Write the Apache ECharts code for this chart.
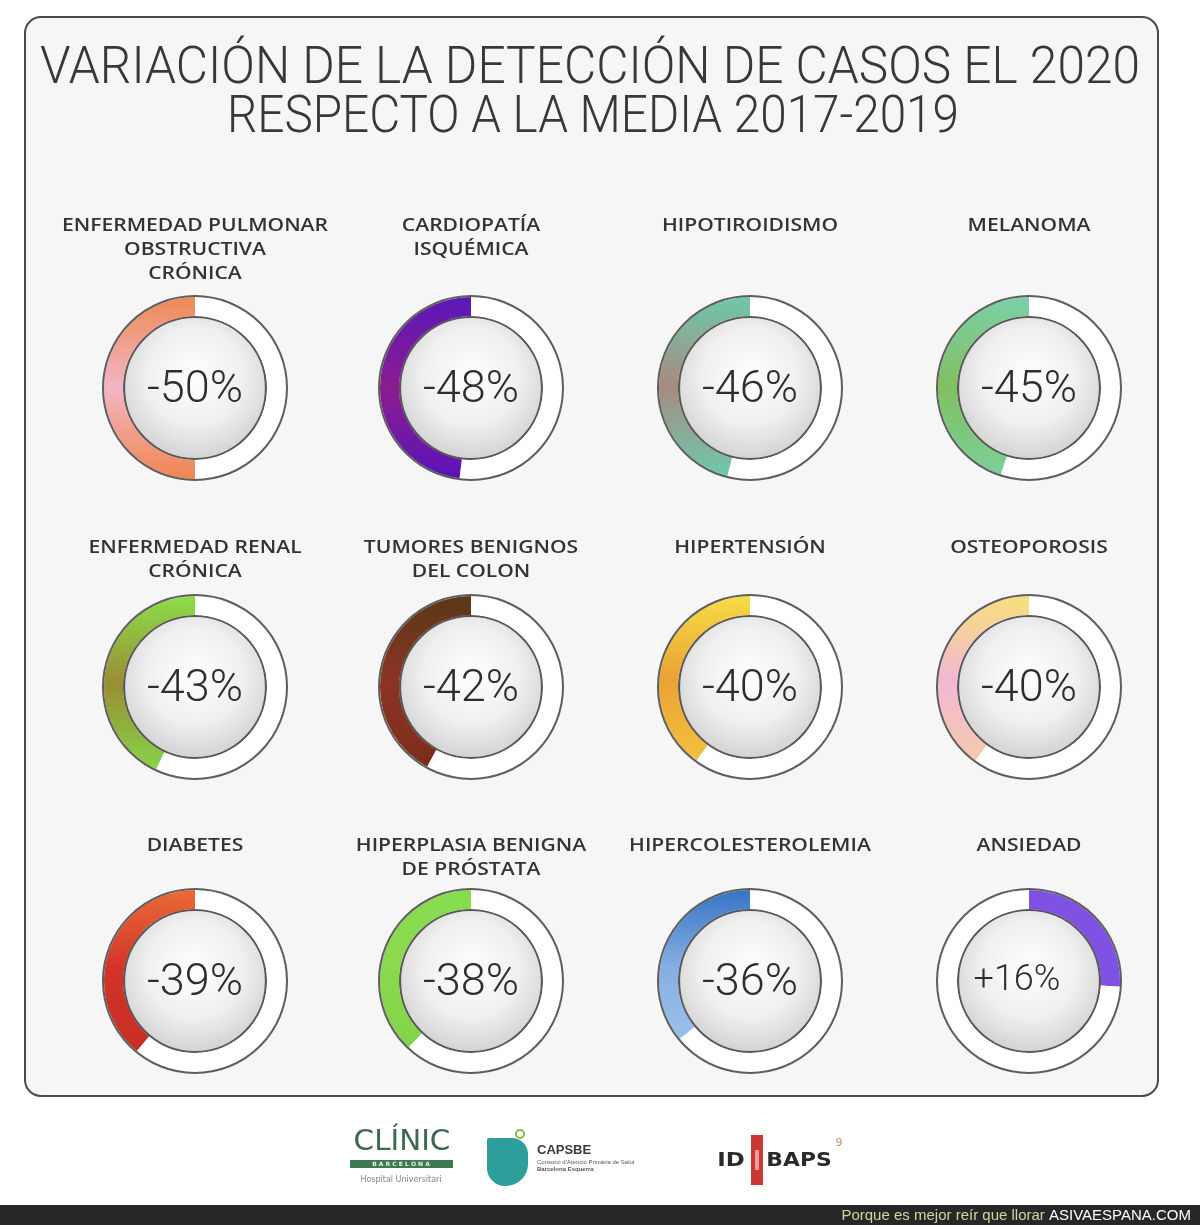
<!DOCTYPE html>
<html>
<head>
<meta charset="utf-8">
<script src="https://cdn.jsdelivr.net/npm/echarts@6/dist/echarts.min.js"></script>
<style>
html,body{margin:0;padding:0;background:#ffffff;}
#chart{width:1200px;height:1225px;}
</style>
</head>
<body>
<div id="chart"></div>
<script>
// ---------- data ----------
const titleLines = ['VARIACIÓN DE LA DETECCIÓN DE CASOS EL 2020', 'RESPECTO A LA MEDIA 2017-2019'];
const categories = [
  'ENFERMEDAD PULMONAR\nOBSTRUCTIVA\nCRÓNICA',
  'CARDIOPATÍA\nISQUÉMICA',
  'HIPOTIROIDISMO',
  'MELANOMA',
  'ENFERMEDAD RENAL\nCRÓNICA',
  'TUMORES BENIGNOS\nDEL COLON',
  'HIPERTENSIÓN',
  'OSTEOPOROSIS',
  'DIABETES',
  'HIPERPLASIA BENIGNA\nDE PRÓSTATA',
  'HIPERCOLESTEROLEMIA',
  'ANSIEDAD'
];
const values = [-50, -48, -46, -45, -43, -42, -40, -40, -39, -38, -36, 16];
// arc length drawn in the picture (percent of full circle)
const arcShare = [50, 48, 46, 45, 43, 42, 40, 40, 39, 38, 36, 26];
const arcColors = [
  ['#ee8a55', '#f2b6c6', '#ef8650'],
  ['#5a18b8', '#8c1c8e', '#5a14b8'],
  ['#6ccaa9', '#a88a80', '#6ccaa9'],
  ['#7cd0a8', '#80c060', '#7ccf98'],
  ['#8cde48', '#9a8c34', '#86d448'],
  ['#5a3818', '#8c3422', '#7c2c1c'],
  ['#f6dc46', '#eba234', '#f2c040'],
  ['#f8e07a', '#f2b8d4', '#f6c8ae'],
  ['#ea6a34', '#d2322a', '#c82e24'],
  ['#86dc50', '#8cd84e', '#80d448'],
  ['#3674c4', '#84aee2', '#9cc2ea'],
  ['#8052e4', '#8052e4', '#8052e4']
];
const footerLeft = 'Porque es mejor reír que llorar ';
const footerRight = 'ASIVAESPANA.COM';

// ---------- layout ----------
const colX = [195, 471, 750, 1029];
const rowY = [388, 687, 981];
const labelTopY = [225, 547, 845];
const R_OUT = 92, R_IN = 71;

const chart = echarts.init(document.getElementById('chart'), null, {renderer: 'canvas'});

const ctx = document.createElement('canvas').getContext('2d');
function fitScale(text, font, target) {
  ctx.font = font;
  return target / ctx.measureText(text).width;
}

const series = [];
const graphics = [];

// box
graphics.push({
  type: 'rect', z: -10,
  shape: {x: 25, y: 17, width: 1133, height: 1079, r: 16},
  style: {fill: '#f6f6f6', stroke: '#4a4a4a', lineWidth: 2}
});

// title
const titleFont = '300 52px Roboto';
const titleTargets = [[590, 70, 1100], [593, 119, 732]];
titleLines.forEach((t, i) => {
  const [x, y, w] = titleTargets[i];
  graphics.push({
    type: 'text', z: 5, x: x, y: y,
    scaleX: fitScale(t, titleFont, w), scaleY: 1,
    style: {text: t, font: titleFont, fill: '#383838', align: 'center', verticalAlign: 'middle'}
  });
});

const labelFont = '600 18px "Open Sans"';
const labelScale = fitScale('ENFERMEDAD PULMONAR', labelFont, 266);

categories.forEach((cat, i) => {
  const col = i % 4, row = Math.floor(i / 4);
  const cx = colX[col], cy = rowY[row];
  const c = arcColors[i];
  // inner disc
  series.push({
    type: 'pie', z: 2, silent: true, animation: false,
    center: [cx, cy], radius: [0, R_IN],
    label: {show: false}, labelLine: {show: false},
    emphasis: {disabled: true},
    data: [{value: 1, itemStyle: {
      color: {type: 'radial', x: 0.5, y: 0.42, r: 0.62, colorStops: [
        {offset: 0, color: '#ffffff'}, {offset: 0.55, color: '#efefef'}, {offset: 1, color: '#cdcdcd'}]},
      borderColor: '#585858', borderWidth: 2.2}}]
  });
  // arc
  series.push({
    type: 'pie', z: 3, silent: true, animation: false,
    center: [cx, cy], radius: [R_IN + 1, R_OUT - 1],
    startAngle: 90, clockwise: values[i] > 0,
    labelLine: {show: false},
    emphasis: {disabled: true},
    data: [
      {value: arcShare[i],
       itemStyle: {color: {type: 'linear', x: 0, y: 0, x2: 0, y2: 1, colorStops: [
         {offset: 0, color: c[0]}, {offset: 0.5, color: c[1]}, {offset: 1, color: c[2]}]}},
       label: {show: true, position: 'center',
         formatter: (values[i] > 0 ? '+' : '') + values[i] + '%',
         fontFamily: 'Roboto', fontWeight: 300,
         fontSize: values[i] > 0 ? 36 : 45, color: '#2e2e2e',
         offset: values[i] > 0 ? [-12, 0] : [0, 3]}},
      {value: 100 - arcShare[i], itemStyle: {color: '#ffffff'}, label: {show: false}}
    ]
  });
  // outer border
  graphics.push({
    type: 'circle', z: 20, silent: true,
    shape: {cx: cx, cy: cy, r: R_OUT},
    style: {fill: null, stroke: '#5e5e5e', lineWidth: 2}
  });
  // category label
  graphics.push({
    type: 'text', z: 5, x: cx, y: labelTopY[row] - 11,
    scaleX: labelScale, scaleY: 1,
    style: {text: cat, font: labelFont, fill: '#333333',
      align: 'center', verticalAlign: 'top', lineHeight: 24}
  });
});

// logos
graphics.push(
  {type: 'text', z: 5, x: 402, y: 1143, scaleX: 1.05,
   style: {text: 'CLÍNIC', font: '400 28px "DejaVu Sans"', fill: '#3c6a4e', align: 'center', verticalAlign: 'middle'}},
  {type: 'rect', z: 5, shape: {x: 350, y: 1160, width: 103, height: 8}, style: {fill: '#3c7a50'}},
  {type: 'text', z: 6, x: 401, y: 1164,
   style: {text: 'B A R C E L O N A', font: 'bold 6px "DejaVu Sans"', fill: '#e8f0e8', align: 'center', verticalAlign: 'middle'}},
  {type: 'text', z: 5, x: 401, y: 1180,
   style: {text: 'Hospital Universitari', font: '8px "DejaVu Sans"', fill: '#7a8a7e', align: 'center', verticalAlign: 'middle'}},
  {type: 'rect', z: 5, shape: {x: 487, y: 1138, width: 41, height: 48, r: [2, 16, 22, 18]},
   style: {fill: '#2e9e9a'}},
  {type: 'circle', z: 5, shape: {cx: 520, cy: 1134, r: 4}, style: {fill: null, stroke: '#8ab64a', lineWidth: 2}},
  {type: 'text', z: 5, x: 537, y: 1150,
   style: {text: 'CAPSBE', font: 'bold 13px "Liberation Sans"', fill: '#3a3a3a', align: 'left', verticalAlign: 'middle'}},
  {type: 'text', z: 5, x: 537, y: 1162,
   style: {text: "Consorci d'Atenció Primària de Salut", font: '6px "Liberation Sans"', fill: '#555555', align: 'left', verticalAlign: 'middle'}},
  {type: 'text', z: 5, x: 537, y: 1169,
   style: {text: 'Barcelona Esquerra', font: 'bold 6px "Liberation Sans"', fill: '#555555', align: 'left', verticalAlign: 'middle'}},
  {type: 'text', z: 5, x: 731, y: 1161, scaleX: 1.2,
   style: {text: 'ID', font: 'bold 19px "DejaVu Sans"', fill: '#2a2a2a', align: 'center', verticalAlign: 'middle'}},
  {type: 'rect', z: 5, shape: {x: 751, y: 1135, width: 12, height: 50}, style: {fill: '#cc3535'}},
  {type: 'rect', z: 6, shape: {x: 755, y: 1150, width: 4, height: 20}, style: {fill: '#f0a0a0'}},
  {type: 'text', z: 5, x: 799, y: 1161, scaleX: 1.15,
   style: {text: 'BAPS', font: 'bold 19px "DejaVu Sans"', fill: '#2a2a2a', align: 'center', verticalAlign: 'middle'}},
  {type: 'text', z: 5, x: 839, y: 1143,
   style: {text: '9', font: '11px "DejaVu Sans"', fill: '#d08a6a', align: 'center', verticalAlign: 'middle'}}
);

// footer bar
graphics.push(
  {type: 'rect', z: 5, shape: {x: 0, y: 1205, width: 1200, height: 20}, style: {fill: '#272727'}},
  {type: 'text', z: 6, x: 1191, y: 1216,
   style: {
     text: '{a|' + footerLeft + '}{b|' + footerRight + '}',
     align: 'right', verticalAlign: 'middle',
     rich: {
       a: {font: '15px "Liberation Sans"', fill: '#d8d29e'},
       b: {font: '15px "Liberation Sans"', fill: '#ffffff'}
     }
   }}
);

chart.setOption({
  backgroundColor: '#ffffff',
  animation: false,
  graphic: {elements: graphics},
  series: series
});
</script>
</body>
</html>
